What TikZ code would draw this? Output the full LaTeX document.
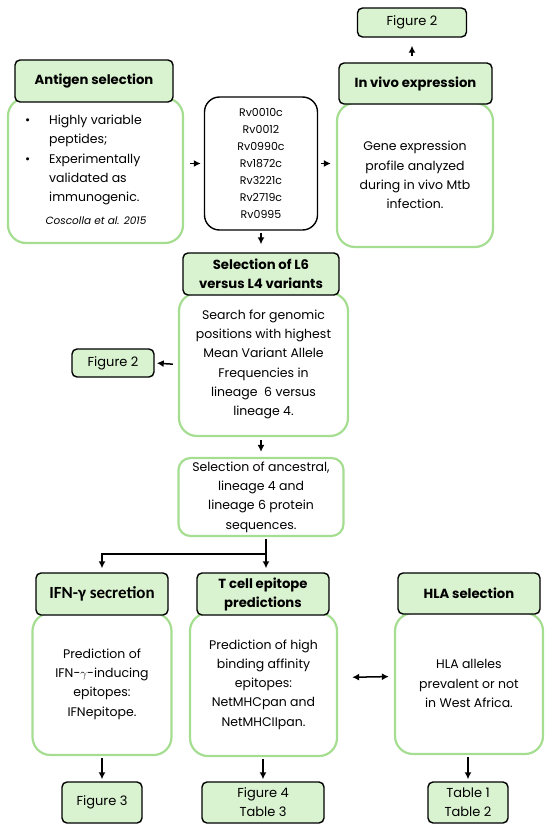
\documentclass[tikz,border=0pt]{standalone}
\usepackage{fontspec}
\setmainfont{Poppins}
\newfontfamily\calib{Carlito}
\usetikzlibrary{arrows.meta}
\definecolor{hdrfill}{RGB}{217,242,207}
\definecolor{bodyline}{RGB}{165,222,145}
\begin{document}
\begin{tikzpicture}[x=1pt,y=-1pt,
  hdr/.style={draw=black, line width=1.4pt, rounded corners=5pt, fill=hdrfill, align=center, inner sep=0pt,
    font=\fontsize{13.2}{19}\selectfont\bfseries},
  bodybox/.style={draw=bodyline, line width=2.2pt, rounded corners=18pt, fill=white, inner sep=0pt,
    align=center, font=\fontsize{12.5}{19.3}\selectfont},
  figbox/.style={draw=black, line width=1.4pt, rounded corners=5pt, fill=hdrfill, align=center, inner sep=0pt,
    font=\fontsize{13}{19}\selectfont},
  txt/.style={inner sep=0pt, font=\fontsize{12.5}{19.3}\selectfont},
  arr/.style={-{Latex[length=7pt,width=7pt]}, line width=1.5pt},
  darr/.style={{Latex[length=7pt,width=7pt]}-{Latex[length=7pt,width=7pt]}, line width=1.5pt}]
\useasboundingbox (0,0) rectangle (550,830);
% top-left
\node[bodybox, minimum width=175, minimum height=145] (antB) at (95.5,170.5) {};
\node[hdr, minimum width=158, minimum height=42] (antH) at (94,81) {Antigen selection};
\node[txt, anchor=west, align=left] (antT) at (25,160)
  {\makebox[24pt][l]{•}Highly variable\\\hspace*{24pt}peptides;\\\makebox[24pt][l]{•}Experimentally\\\hspace*{24pt}validated as\\\hspace*{24pt}immunogenic.};
\node[txt, font=\fontsize{10.5}{13}\selectfont\itshape] (antC) at (96,221) {Coscolla et al. 2015};
% Rv box
\node[draw=black, line width=1.4pt, rounded corners=15pt, fill=white, minimum width=113, minimum height=133,
  inner sep=0pt, align=center, font=\fontsize{11}{17}\selectfont] (rv) at (261,163.5)
  {Rv0010c\\Rv0012\\Rv0990c\\Rv1872c\\Rv3221c\\Rv2719c\\Rv0995};
% In vivo
\node[bodybox, minimum width=156, minimum height=144] (vivB) at (415,175)
  {Gene expression\\profile analyzed\\during in vivo Mtb\\infection.};
\node[hdr, minimum width=153, minimum height=41] (vivH) at (415.5,83.5) {In vivo expression};
\node[figbox, minimum width=109, minimum height=29] (fig2a) at (412,22.5) {Figure 2};
% L6 vs L4
\node[bodybox, minimum width=169, minimum height=143] (l6B) at (263.5,364.5)
  {Search for genomic\\positions with highest\\Mean Variant Allele\\Frequencies in\\lineage~~6 versus\\lineage 4.};
\node[hdr, minimum width=156, minimum height=42] (l6H) at (261,274)
  {Selection of L6\\versus L4 variants};
\node[figbox, minimum width=82, minimum height=28] (fig2b) at (113,363) {Figure 2};
% selection of sequences
\node[bodybox, rounded corners=12pt, minimum width=165, minimum height=78] (selB) at (261,497)
  {Selection of ancestral,\\lineage 4 and\\lineage 6 protein\\sequences.};
% bottom row
\node[bodybox, minimum width=139, minimum height=142] (ifnB) at (102,684)
  {Prediction of\\IFN-$\gamma$-inducing\\epitopes:\\IFNepitope.};
\node[hdr, minimum width=132, minimum height=42, font=\fontsize{17}{19}\selectfont\calib\bfseries] (ifnH) at (102,594)
  {IFN-γ secretion};
\node[bodybox, minimum width=147, minimum height=143] (tB) at (263.5,684.5)
  {Prediction of high\\binding affinity\\epitopes:\\NetMHCpan and\\NetMHCIIpan.};
\node[hdr, minimum width=132, minimum height=42] (tH) at (263,594) {T cell epitope\\predictions};
\node[bodybox, minimum width=148, minimum height=141] (hlaB) at (469,683.5)
  {HLA alleles\\prevalent or not\\in West Africa.};
\node[hdr, minimum width=142, minimum height=41] (hlaH) at (469,593.5) {HLA selection};
\node[figbox, minimum width=80, minimum height=41] (fig3) at (102,802.5) {Figure 3};
\node[figbox, minimum width=122, minimum height=41] (fig4) at (263,802.5) {Figure 4\\Table 3};
\node[figbox, minimum width=80, minimum height=41] (tab) at (468,802.5) {Table 1\\Table 2};
% connectors
\draw[arr, shorten <=6pt, shorten >=3pt] (antB.east |- rv.west) -- (rv.west);
\draw[arr, shorten <=3pt, shorten >=5pt] (rv.east) -- (vivB.west |- rv.east);
\draw[arr, shorten <=6pt, shorten >=8pt] (fig2a.south |- vivH.north) -- (fig2a.south);
\draw[arr, shorten <=2pt, shorten >=8pt] (rv.south) -- (rv.south |- l6H.north);
\draw[arr, shorten <=5pt, shorten >=2pt] (l6B.west) -- (fig2b.east);
\draw[arr, shorten <=3pt, shorten >=5pt] (l6B.south -| selB.north) -- (selB.north);
\coordinate (split) at (266,554);
\draw[line width=1.5pt, shorten <=2pt] (split |- selB.south) -- (split);
\draw[arr, shorten >=4pt] (split) -- (split |- tH.north);
\draw[arr, shorten >=4pt] (split) -| (ifnH.north);
\draw[darr, shorten <=14pt, shorten >=5pt] ([yshift=7pt]tB.east) -- ([yshift=7pt]hlaB.west);
\draw[arr, shorten <=2pt, shorten >=2pt] (ifnB.south) -- (ifnB.south |- fig3.north);
\draw[arr, shorten <=2pt, shorten >=2pt] (tB.south -| fig4.north) -- (fig4.north);
\draw[arr, shorten <=2pt, shorten >=2pt] (hlaB.south -| tab.north) -- (tab.north);
\end{tikzpicture}
\end{document}
